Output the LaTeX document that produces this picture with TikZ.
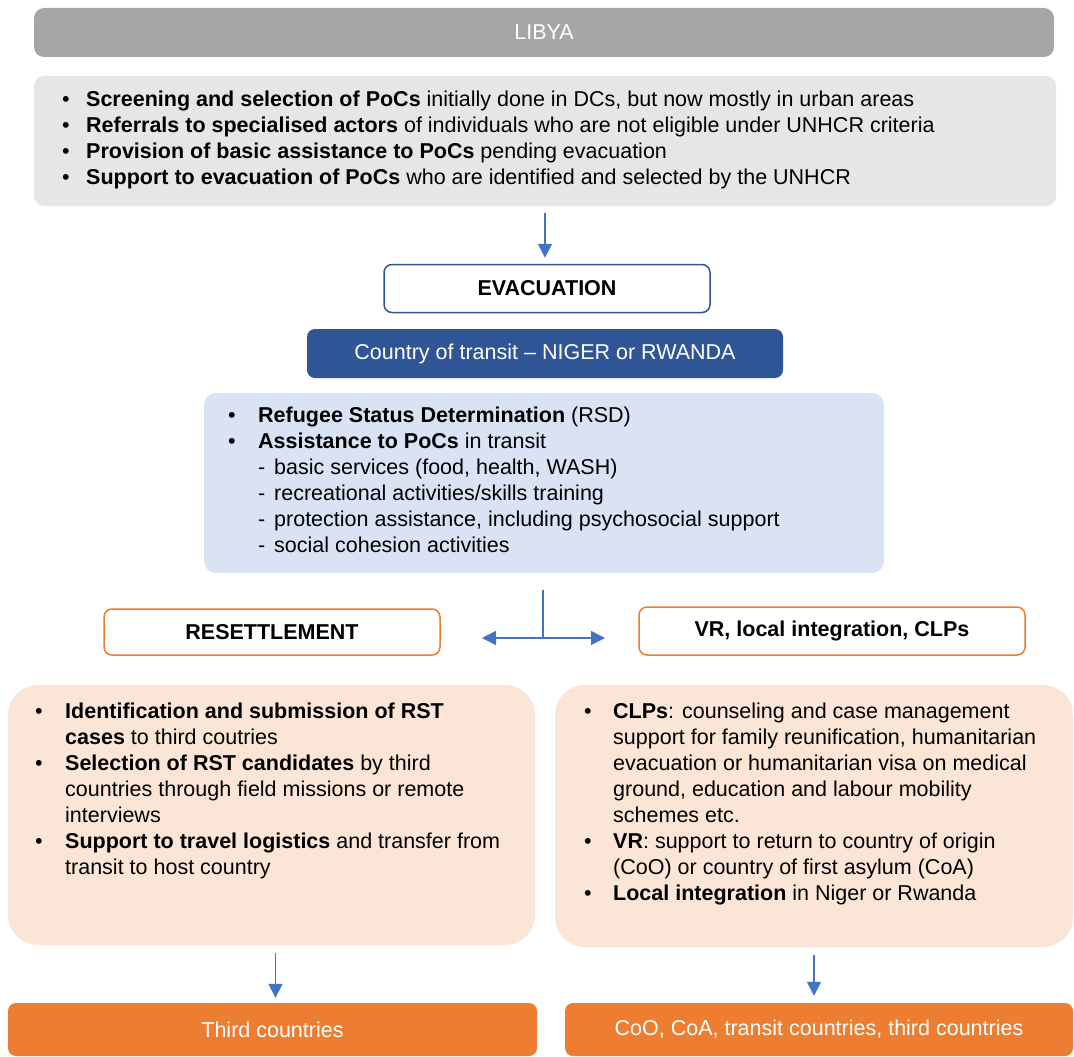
\documentclass[tikz,border=0pt]{standalone}
\usepackage{fontspec}
\setmainfont{Liberation Sans}
\usetikzlibrary{arrows.meta}

\definecolor{libyagrey}{HTML}{A6A6A6}
\definecolor{panelgrey}{HTML}{E7E6E6}
\definecolor{transitblue}{HTML}{2F5597}
\definecolor{paleblue}{HTML}{DAE3F3}
\definecolor{arrowblue}{HTML}{4472C4}
\definecolor{rstorange}{HTML}{ED7D31}
\definecolor{peach}{HTML}{FBE5D6}

\newcommand{\itm}[2][30pt]{\makebox[#1][l]{\textbullet}#2}
\newcommand{\cnt}[2][30pt]{\hspace*{#1}#2}

\tikzset{
	panel/.style = {rounded corners = 10pt, inner sep = 0pt},
	bigpanel/.style = {rounded corners = 30pt, inner sep = 0pt},
	textblock/.style = {anchor = north west, align = left, inner sep = 0pt, font = \fontsize{21.5}{26}\selectfont},
	headfont/.style = {font = \fontsize{21.5}{24}\selectfont},
	stepbox/.style = {draw = #1, line width = 1.5pt, fill = white, rounded corners = 8pt, font = \bfseries\fontsize{21.5}{24}\selectfont},
	flow/.style = {draw = arrowblue, line width = 1.6pt, -{Triangle[width = 14pt, length = 14pt]}},
	link/.style = {draw = arrowblue, line width = 1.6pt}
}

\begin{document}
\begin{tikzpicture}[x = 1pt, y = -1pt]

	\useasboundingbox (0, 0) rectangle (1074, 1057);

	% Libya
	
	\node [panel, fill = libyagrey, text = white, headfont, minimum width = 1020pt, minimum height = 49pt] (libya) at (544, 32.5) {LIBYA};
	
	\node [panel, fill = panelgrey, minimum width = 1022pt, minimum height = 130pt] (libyapanel) at (545, 141) {};
	\node [textblock] (libyatext) at (62, 91) {%
		\itm[24pt]{\textbf{Screening and selection of PoCs} initially done in DCs, but now mostly in urban areas}\\
		\itm[24pt]{\textbf{Referrals to specialised actors} of individuals who are not eligible under UNHCR criteria}\\
		\itm[24pt]{\textbf{Provision of basic assistance to PoCs} pending evacuation}\\
		\itm[24pt]{\textbf{Support to evacuation of PoCs} who are identified and selected by the UNHCR}};
	
	% Evacuation and transit
	
	\node [stepbox = transitblue, minimum width = 326pt, minimum height = 48pt] (evacuation) at (547, 288.5) {EVACUATION};
	
	\node [panel, rounded corners = 8pt, fill = transitblue, text = white, headfont, minimum width = 476pt, minimum height = 49pt] (transit) at (545, 353.5) {Country of transit -- NIGER or RWANDA};
	
	\node [panel, rounded corners = 12pt, fill = paleblue, minimum width = 680pt, minimum height = 180pt] (transitpanel) at (544, 483) {};
	\node [textblock] (transittext) at (228, 407) {%
		\itm{\textbf{Refugee Status Determination} (RSD)}\\
		\itm{\textbf{Assistance to PoCs} in transit}\\
		\cnt{\makebox[16pt][l]{-}basic services (food, health, WASH)}\\
		\cnt{\makebox[16pt][l]{-}recreational activities/skills training}\\
		\cnt{\makebox[16pt][l]{-}protection assistance, including psychosocial support}\\
		\cnt{\makebox[16pt][l]{-}social cohesion activities}};
	
	% Two ways out
	
	\node [stepbox = rstorange, minimum width = 336pt, minimum height = 46pt] (resettlement) at (272, 632) {RESETTLEMENT};
	\node [stepbox = rstorange, minimum width = 386pt, minimum height = 48pt] (integration) at (832, 631) {VR, local integration, CLPs};
	
	\node [bigpanel, fill = peach, minimum width = 527pt, minimum height = 260pt] (rstpanel) at (271.5, 815) {};
	\node [textblock] (rsttext) at (35, 703) {%
		\itm{\textbf{Identification and submission of RST}}\\
		\cnt{\textbf{cases} to third coutries}\\
		\itm{\textbf{Selection of RST candidates} by third}\\
		\cnt{countries through field missions or remote}\\
		\cnt{interviews}\\
		\itm{\textbf{Support to travel logistics} and transfer from}\\
		\cnt{transit to host country}};
	
	\node [bigpanel, fill = peach, minimum width = 518pt, minimum height = 262pt] (vrpanel) at (814, 816) {};
	\node [textblock] (vrtext) at (584, 703) {%
		\itm[29pt]{\textbf{CLPs}: counseling and case management}\\
		\cnt[29pt]{support for family reunification, humanitarian}\\
		\cnt[29pt]{evacuation or humanitarian visa on medical}\\
		\cnt[29pt]{ground, education and labour mobility}\\
		\cnt[29pt]{schemes etc.}\\
		\itm[29pt]{\textbf{VR}: support to return to country of origin}\\
		\cnt[29pt]{(CoO) or country of first asylum (CoA)}\\
		\itm[29pt]{\textbf{Local integration} in Niger or Rwanda}};
	
	% Destinations
	
	\node [panel, rounded corners = 8pt, fill = rstorange, text = white, headfont, minimum width = 529pt, minimum height = 53pt] (thirdcountries) at (272.5, 1029.5) {Third countries};
	\node [panel, rounded corners = 8pt, fill = rstorange, text = white, headfont, minimum width = 508pt, minimum height = 53pt] (destinations) at (819, 1029.5) {CoO, CoA, transit countries, third countries};
	
	% Arrows
	
	\draw [flow, shorten <= 7pt, shorten >= 6pt] (libyapanel.south) -- (libyapanel.south |- evacuation.north);
	
	\coordinate (forktop) at (543, 590);
	\coordinate (fork) at (543, 638);
	\coordinate (forkleft) at (482, 638);
	\coordinate (forkright) at (605, 638);
	\draw [link] (forktop) -- (fork);
	\draw [flow, {Triangle[width = 14pt, length = 14pt]}-{Triangle[width = 14pt, length = 14pt]}] (forkleft) -- (forkright);
	
	\draw [flow, shorten <= 8pt, shorten >= 5pt] ([xshift = 4pt] rstpanel.south) -- ([xshift = 4pt] rstpanel.south |- thirdcountries.north);
	\draw [flow, shorten <= 8pt, shorten >= 7pt] (vrpanel.south) -- (vrpanel.south |- destinations.north);

\end{tikzpicture}
\end{document}
